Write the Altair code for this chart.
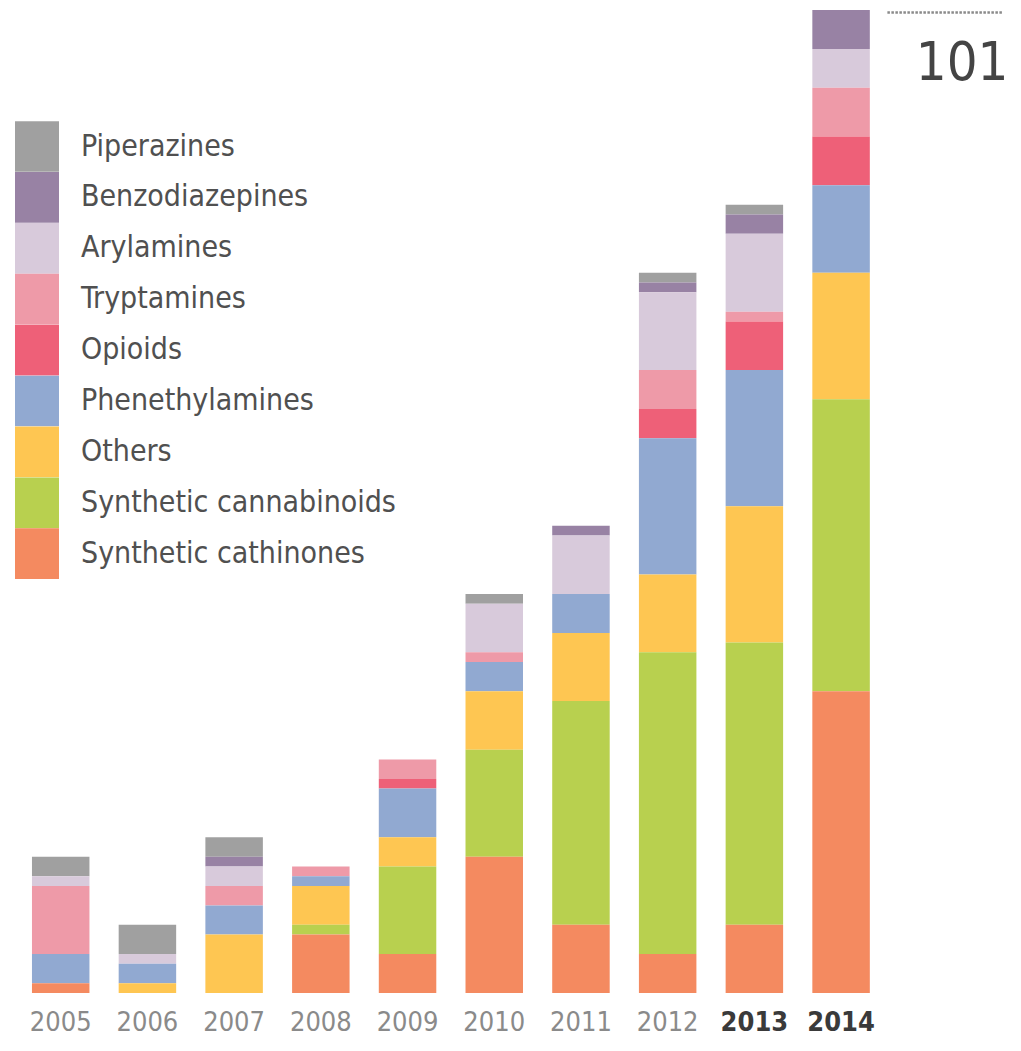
import altair as alt
import pandas as pd

years = ["2005", "2006", "2007", "2008", "2009", "2010", "2011", "2012", "2013", "2014"]

categories = ["Piperazines", "Benzodiazepines", "Arylamines", "Tryptamines", "Opioids",
              "Phenethylamines", "Others", "Synthetic cannabinoids", "Synthetic cathinones"]
colors = ["#a0a0a0", "#9882a4", "#d8cadb", "#ee9aa8", "#ee6078",
          "#91a9d1", "#fec652", "#b8d04f", "#f48a60"]

piperazines = [2, 3, 2, 0, 0, 1, 0, 1, 1, 0]
benzodiazepines = [0, 0, 1, 0, 0, 0, 1, 1, 2, 4]
arylamines = [1, 1, 2, 0, 0, 5, 6, 8, 8, 4]
tryptamines = [7, 0, 2, 1, 2, 1, 0, 4, 1, 5]
opioids = [0, 0, 0, 0, 1, 0, 0, 3, 5, 5]
phenethylamines = [3, 2, 3, 1, 5, 3, 4, 14, 14, 9]
others = [0, 1, 6, 4, 3, 6, 7, 8, 14, 13]
cannabinoids = [0, 0, 0, 1, 9, 11, 23, 31, 29, 30]
cathinones = [1, 0, 0, 6, 4, 14, 7, 4, 7, 31]

series = [piperazines, benzodiazepines, arylamines, tryptamines, opioids,
          phenethylamines, others, cannabinoids, cathinones]

rows = []
for ci, (cat, vals) in enumerate(zip(categories, series)):
    for y, v in zip(years, vals):
        rows.append({"year": y, "category": cat, "count": v, "stackorder": len(categories) - ci})
df = pd.DataFrame(rows)

FONT = "'DejaVu Sans Condensed', 'DejaVu Sans', sans-serif"

xscale = alt.Scale(domain=years, paddingInner=0.337, paddingOuter=0.168)
yscale = alt.Scale(domain=[0, 101], nice=False, zero=True)

bold_test = "datum.value == '2013' || datum.value == '2014'"

bars = alt.Chart(df).mark_bar(stroke=None).encode(
    x=alt.X("year:N", scale=xscale, sort=years,
            axis=alt.Axis(title=None, domain=False, ticks=False, labelAngle=0,
                          labelFont=FONT, labelFontSize=27, labelPadding=17,
                          labelColor={"condition": {"test": bold_test, "value": "#3a3a3a"},
                                      "value": "#8a8a8a"},
                          labelFontWeight={"condition": {"test": bold_test, "value": "bold"},
                                           "value": "normal"})),
    y=alt.Y("count:Q", stack="zero", scale=yscale, axis=None),
    color=alt.Color("category:N", scale=alt.Scale(domain=categories, range=colors),
                    legend=alt.Legend(title=None, orient="none", legendX=-2.4, legendY=114.5,
                                      symbolType="M-1,-1.152H1V1.152H-1Z", symbolSize=1936,
                                      symbolStrokeWidth=0, symbolOpacity=1, rowPadding=-1.1,
                                      labelFont=FONT, labelFontSize=30, labelColor="#505050",
                                      labelOffset=22, padding=0, labelLimit=500)),
    order=alt.Order("stackorder:Q", sort="ascending"),
)

total = alt.Chart(df).transform_filter(
    "datum.year == '2014'"
).transform_aggregate(
    total="sum(count)", groupby=["year"]
)

label = total.mark_text(font=FONT, fontSize=54, color="#444444", align="center",
                        baseline="alphabetic", dx=121, dy=70).encode(
    x=alt.X("year:N", scale=xscale, sort=years),
    y=alt.Y("total:Q", scale=yscale),
    text="total:Q",
)

leader = total.mark_rule(color="#8a8a8a", strokeWidth=2.5, strokeDash=[2.5, 1.5], yOffset=2.5).encode(
    x=alt.value(870),
    x2=alt.value(986),
    y=alt.Y("total:Q", scale=yscale),
)

chart = alt.layer(bars, leader, label).properties(
    width=867, height=983,
    autosize=alt.AutoSizeParams(type="none"),
    padding={"left": 9.4, "top": 2, "right": 124, "bottom": 48},
).configure_view(stroke=None)

chart.save("out.html", embed_options={"renderer": "svg", "actions": False})
